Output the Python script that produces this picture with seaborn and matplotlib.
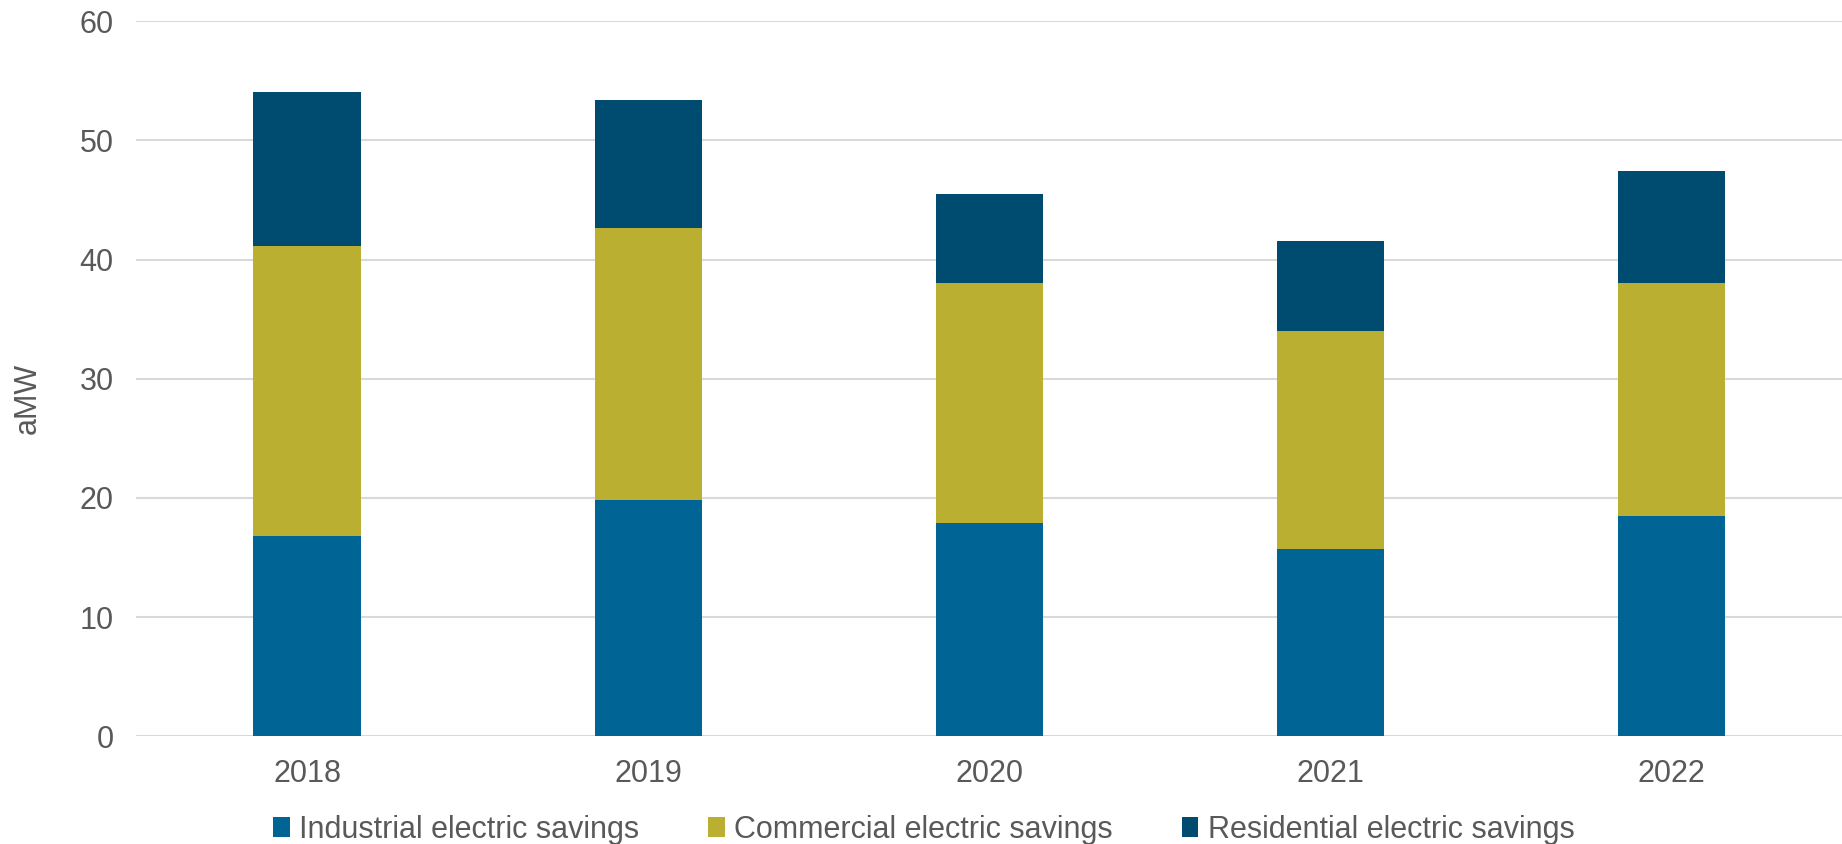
import matplotlib
matplotlib.use("Agg")
import matplotlib.pyplot as plt
from matplotlib.patches import Patch
import numpy as np
import pandas as pd
import seaborn as sns

years = ["2018", "2019", "2020", "2021", "2022"]
industrial = [16.8, 19.8, 17.9, 15.7, 18.5]
commercial = [24.3, 22.8, 20.1, 18.3, 19.5]
residential = [12.95, 10.75, 7.5, 7.55, 9.4]

series_names = ["Industrial electric savings", "Commercial electric savings",
                "Residential electric savings"]
series_colors = ["#006595", "#BAAF31", "#004C70"]

sns.set_theme(style="white")
plt.rcParams["font.family"] = ["Liberation Sans", "DejaVu Sans"]

fig = plt.figure(figsize=(18.42, 8.44), dpi=100)
ax = fig.add_axes([0.0741, 0.1274, 0.9259, 0.8477])

text_color = "#595959"
fs = 22
bottom = np.zeros(len(years))
for vals, color in zip([industrial, commercial, residential], series_colors):
    sns.barplot(x=years, y=vals, bottom=bottom, color=color, width=0.314,
                saturation=1, linewidth=0, ax=ax)
    bottom = bottom + np.array(vals)

ax.set_ylim(0, 60)
ax.set_xlim(-0.5, 4.5)
ax.set_yticks(range(0, 61, 10))
ax.yaxis.grid(True, color="#D9D9D9", linewidth=1.5)
ax.set_axisbelow(True)
for s in ax.spines.values():
    s.set_visible(False)
ax.tick_params(axis="both", length=0, labelsize=fs, labelcolor=text_color)
ax.tick_params(axis="y", pad=16.5)
ax.tick_params(axis="x", pad=16)
ax.set_ylabel("aMW", fontsize=fs, color=text_color)
ax.yaxis.set_label_coords(-0.0547, 0.472)

handles = [Patch(facecolor=c, edgecolor="none") for c in series_colors]
fig.legend(handles, series_names, loc="center", bbox_to_anchor=(0.5014, 0.017),
           ncol=3, frameon=False, fontsize=fs, labelcolor=text_color,
           handlelength=0.55, handleheight=0.6, handletextpad=0.3,
           columnspacing=2.26)

fig.savefig("out.png", dpi=100)
